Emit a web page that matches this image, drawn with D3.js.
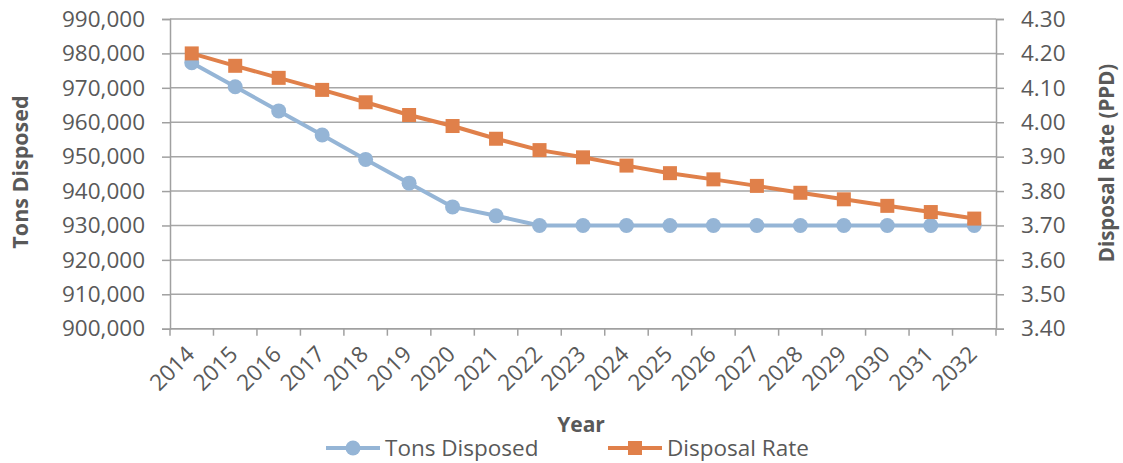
<!DOCTYPE html>
<html>
<head>
<meta charset="utf-8">
<script src="https://cdn.jsdelivr.net/npm/d3@7"></script>
<style>
  html, body { margin: 0; padding: 0; background: #fff; }
  svg { display: block; }
  text { font-family: "Open Sans", "Noto Sans", sans-serif; fill: #595959; }
</style>
</head>
<body>
<svg id="chart" width="1123" height="463"></svg>
<script>
// Waste disposal projection, 2014–2032
const years = ["2014","2015","2016","2017","2018","2019","2020","2021","2022","2023",
               "2024","2025","2026","2027","2028","2029","2030","2031","2032"];
const tonsDisposed = [977300, 970300, 963300, 956300, 949200, 942300, 935400, 932800, 930000, 930000,
                      930000, 930000, 930000, 930000, 930000, 930000, 930000, 930000, 930000];
const disposalRate = [4.20, 4.164, 4.129, 4.094, 4.058, 4.021, 3.989, 3.952, 3.919, 3.898,
                      3.874, 3.852, 3.834, 3.815, 3.795, 3.776, 3.757, 3.739, 3.720];
const leftTicks = [900000, 910000, 920000, 930000, 940000, 950000, 960000, 970000, 980000, 990000];
const rightTicks = [3.40, 3.50, 3.60, 3.70, 3.80, 3.90, 4.00, 4.10, 4.20, 4.30];
const seriesNames = ["Tons Disposed", "Disposal Rate"];

const colors = { tons: "#95B5D6", rate: "#E0804A", grid: "#A6A6A6", axis: "#A0A0A0" };
const plot = { left: 170, right: 996, top: 19, bottom: 328.7 };
const tickFont = "22.5px";

const svg = d3.select("#chart");

const x = d3.scaleBand().domain(years).range([plot.left, plot.right]);
const yL = d3.scaleLinear().domain([900000, 990000]).range([plot.bottom, plot.top]);
const yR = d3.scaleLinear().domain([3.40, 4.30]).range([plot.bottom, plot.top]);

// horizontal gridlines
svg.append("g").selectAll("line").data(leftTicks).join("line")
  .attr("x1", plot.left).attr("x2", plot.right)
  .attr("y1", d => yL(d)).attr("y2", d => yL(d))
  .attr("stroke", colors.grid).attr("stroke-width", 1.5);

// left axis
const fmt = d3.format(",");
const gL = svg.append("g").attr("transform", `translate(${plot.left},0)`)
  .call(d3.axisLeft(yL).tickValues(leftTicks).tickFormat(fmt).tickSize(8).tickPadding(17));
// right axis
const gR = svg.append("g").attr("transform", `translate(${plot.right},0)`)
  .call(d3.axisRight(yR).tickValues(rightTicks).tickFormat(d3.format(".2f")).tickSize(8).tickPadding(17));
// bottom axis: ticks on band boundaries
const bounds = years.map(d => x(d)).concat([plot.right]);
const gB = svg.append("g").attr("transform", `translate(0,${plot.bottom})`)
  .call(d3.axisBottom(x).tickSize(0).tickPadding(0));
gB.selectAll(".tick line").remove();
gB.append("g").selectAll("line").data(bounds).join("line")
  .attr("x1", d => d).attr("x2", d => d).attr("y1", 0).attr("y2", 7)
  .attr("stroke", colors.axis).attr("stroke-width", 1.5);

[gL, gR, gB].forEach(g => {
  g.select(".domain").attr("stroke", colors.axis).attr("stroke-width", 1.5);
  g.selectAll(".tick line").attr("stroke", colors.axis).attr("stroke-width", 1.5);
  g.selectAll(".tick text").attr("fill", "#595959").style("font-size", tickFont)
    .style("font-family", '"Open Sans", "Noto Sans", sans-serif');
});
gB.select(".domain").attr("d", `M${plot.left},0H${plot.right}`);
gB.selectAll(".tick text")
  .attr("text-anchor", "end").attr("dy", 0)
  .attr("transform", "translate(4,27) rotate(-45)");

// lines and markers
const lineTons = d3.line().x((d, i) => x(years[i]) + x.bandwidth() / 2).y(d => yL(d));
const lineRate = d3.line().x((d, i) => x(years[i]) + x.bandwidth() / 2).y(d => yR(d));

svg.append("path").datum(tonsDisposed).attr("d", lineTons)
  .attr("fill", "none").attr("stroke", colors.tons).attr("stroke-width", 4).attr("stroke-linejoin", "round");
svg.append("g").selectAll("circle").data(tonsDisposed).join("circle")
  .attr("cx", (d, i) => x(years[i]) + x.bandwidth() / 2).attr("cy", d => yL(d))
  .attr("r", 7.5).attr("fill", colors.tons);

svg.append("path").datum(disposalRate).attr("d", lineRate)
  .attr("fill", "none").attr("stroke", colors.rate).attr("stroke-width", 4).attr("stroke-linejoin", "round");
const sq = 14;
svg.append("g").selectAll("rect").data(disposalRate).join("rect")
  .attr("x", (d, i) => x(years[i]) + x.bandwidth() / 2 - sq / 2).attr("y", d => yR(d) - sq / 2)
  .attr("width", sq).attr("height", sq).attr("fill", colors.rate);

// axis titles
svg.append("text").attr("transform", "translate(28,172) rotate(-90)")
  .attr("text-anchor", "middle").style("font-size", "21.5px").style("font-weight", "700")
  .text("Tons Disposed");
svg.append("text").attr("transform", "translate(1114,163) rotate(-90)")
  .attr("text-anchor", "middle").style("font-size", "20.5px").style("font-weight", "700")
  .text("Disposal Rate (PPD)");
svg.append("text").attr("x", 581).attr("y", 432)
  .attr("text-anchor", "middle").style("font-size", "21px").style("font-weight", "700")
  .text("Year");

// legend
const legend = svg.append("g");
const legendItems = [
  { name: seriesNames[0], color: colors.tons, shape: "circle", x0: 326 },
  { name: seriesNames[1], color: colors.rate, shape: "square", x0: 608 }
];
const ly = 448;
legendItems.forEach(it => {
  const g = legend.append("g");
  g.append("line").attr("x1", it.x0).attr("x2", it.x0 + 54).attr("y1", ly).attr("y2", ly)
    .attr("stroke", it.color).attr("stroke-width", 4);
  if (it.shape === "circle") {
    g.append("circle").attr("cx", it.x0 + 27).attr("cy", ly).attr("r", 7.5).attr("fill", it.color);
  } else {
    g.append("rect").attr("x", it.x0 + 27 - 7).attr("y", ly - 7).attr("width", 14).attr("height", 14)
      .attr("fill", it.color);
  }
  g.append("text").attr("x", it.x0 + 59).attr("y", ly + 8).style("font-size", "22.5px").text(it.name);
});
</script>
</body>
</html>
